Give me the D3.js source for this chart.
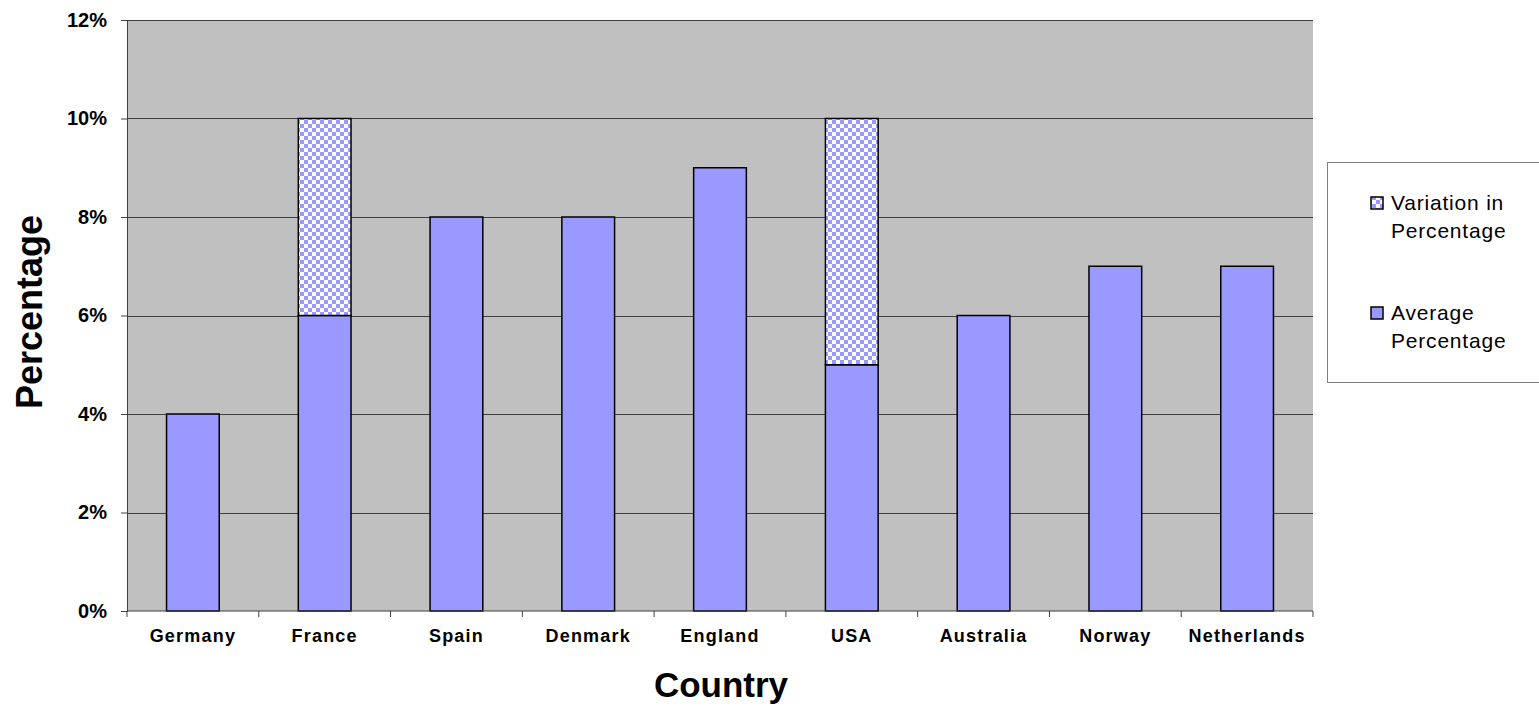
<!DOCTYPE html>
<html>
<head>
<meta charset="utf-8">
<script src="https://cdn.jsdelivr.net/npm/d3@7"></script>
<style>
  body { margin: 0; background: #fff; }
  svg { display: block; font-family: "Liberation Sans", Arial, sans-serif; }
</style>
</head>
<body>
<div id="chart"></div>
<script>
const countries = ["Germany", "France", "Spain", "Denmark", "England", "USA", "Australia", "Norway", "Netherlands"];
const averagePct = [4, 6, 8, 8, 9, 5, 6, 7, 7];
const variationPct = [0, 4, 0, 0, 0, 5, 0, 0, 0];
const yTicks = [0, 2, 4, 6, 8, 10, 12];
const legendLabels = [["Variation in", "Percentage"], ["Average", "Percentage"]];

(function() {
    const width = 1539, height = 707;
    const margin = {top: 20, right: 226, bottom: 96, left: 127};
    const blue = "#9999FF";

    const svg = d3.select("#chart").append("svg")
        .attr("width", width).attr("height", height);

    // checkered fill for the variation part
    const pat = svg.append("defs").append("pattern")
        .attr("id", "checker").attr("patternUnits", "userSpaceOnUse")
        .attr("width", 8).attr("height", 8);
    pat.append("rect").attr("width", 8).attr("height", 8).attr("fill", "#fff");
    pat.append("rect").attr("width", 4).attr("height", 4).attr("fill", blue);
    pat.append("rect").attr("x", 4).attr("y", 4).attr("width", 4).attr("height", 4).attr("fill", blue);

    const x = d3.scaleBand().domain(countries).range([margin.left, width - margin.right]).padding(0);
    const y = d3.scaleLinear().domain([0, 12]).range([height - margin.bottom, margin.top]);

    // plot background
    svg.append("rect")
        .attr("x", margin.left).attr("y", margin.top)
        .attr("width", width - margin.right - margin.left)
        .attr("height", y(0) - margin.top)
        .attr("fill", "#C0C0C0");

    // gridlines
    svg.append("g").selectAll("line").data(yTicks.slice(1)).enter().append("line")
        .attr("x1", margin.left).attr("x2", width - margin.right)
        .attr("y1", d => Math.round(y(d)) + 0.5).attr("y2", d => Math.round(y(d)) + 0.5)
        .attr("stroke", "#404040").attr("stroke-width", 1);

    const data = countries.map((c, i) => ({c, avg: averagePct[i], vari: variationPct[i]}));
    const bw = x.bandwidth() * 0.4;
    const bx = d => x(d.c) + (x.bandwidth() - bw) / 2;

    svg.append("g").selectAll("rect").data(data).enter().append("rect")
        .attr("x", bx).attr("width", bw)
        .attr("y", d => y(d.avg)).attr("height", d => y(0) - y(d.avg))
        .attr("fill", blue).attr("stroke", "#000").attr("stroke-width", 1.5);

    svg.append("g").selectAll("rect").data(data.filter(d => d.vari > 0)).enter().append("rect")
        .attr("x", bx).attr("width", bw)
        .attr("y", d => y(d.avg + d.vari)).attr("height", d => y(d.avg) - y(d.avg + d.vari))
        .attr("fill", "url(#checker)").attr("stroke", "#000").attr("stroke-width", 1.5);

    // y axis
    const yAxis = svg.append("g")
        .attr("transform", `translate(${margin.left},0)`)
        .call(d3.axisLeft(y).tickValues(yTicks).tickFormat(d => d + "%").tickSize(6).tickPadding(14));
    yAxis.selectAll("path, line").attr("stroke", "#404040");
    yAxis.selectAll("text").style("font-size", "20px").style("font-weight", "bold")
        .style("font-family", "Liberation Sans, Arial").attr("fill", "#000");

    // x axis with ticks at category boundaries
    const xg = svg.append("g").attr("transform", `translate(0,${y(0)})`);
    xg.append("line").attr("x1", margin.left).attr("x2", width - margin.right)
        .attr("stroke", "#404040");
    const bounds = countries.map(c => x(c)).concat([width - margin.right]);
    xg.selectAll(".tk").data(bounds).enter().append("line")
        .attr("x1", d => d).attr("x2", d => d).attr("y1", 0).attr("y2", 6)
        .attr("stroke", "#404040");
    xg.selectAll(".lbl").data(countries).enter().append("text")
        .attr("x", d => x(d) + x.bandwidth() / 2).attr("y", 31)
        .attr("text-anchor", "middle")
        .style("font-size", "18px").style("font-weight", "bold").style("letter-spacing", "1.2px")
        .text(d => d);

    // axis titles
    svg.append("text")
        .attr("x", 721).attr("y", 697)
        .attr("text-anchor", "middle")
        .style("font-size", "35px").style("font-weight", "bold")
        .text("Country");
    svg.append("text")
        .attr("transform", "rotate(-90)")
        .attr("x", -312).attr("y", 42)
        .attr("text-anchor", "middle")
        .style("font-size", "36px").style("font-weight", "bold")
        .text("Percentage");

    // legend
    const lg = svg.append("g");
    lg.append("rect").attr("x", 1327.5).attr("y", 162.5).attr("width", 220).attr("height", 220)
        .attr("fill", "#fff").attr("stroke", "#808080");
    const fills = ["url(#checker)", blue];
    const rows = [197, 307];
    legendLabels.forEach((lines, i) => {
        lg.append("rect").attr("x", 1371).attr("y", rows[i]).attr("width", 12).attr("height", 12)
            .attr("fill", fills[i]).attr("stroke", "#000").attr("stroke-width", 1.5);
        lines.forEach((t, j) => {
            lg.append("text").attr("x", 1391).attr("y", rows[i] + 13 + j * 28)
                .style("font-size", "21px").style("letter-spacing", "0.8px").text(t);
        });
    });
})();
</script>
</body>
</html>
